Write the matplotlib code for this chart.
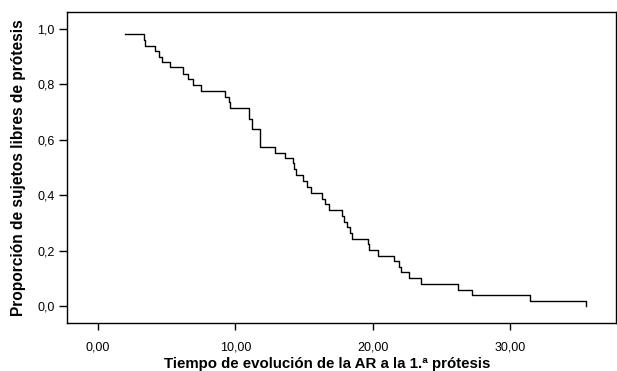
import matplotlib
matplotlib.use('Agg')
import matplotlib.pyplot as plt

# Kaplan-Meier style step curve
tiempo = [1.94, 3.32, 3.39, 4.19, 4.48, 4.65, 5.21, 6.18, 6.58, 6.94,
          7.51, 9.23, 9.56, 9.64, 11.00, 11.22, 11.80, 12.89, 13.63, 14.19,
          14.26, 14.44, 14.90, 15.24, 15.51, 16.28, 16.53, 16.84, 17.75, 17.93,
          18.15, 18.33, 18.46, 19.62, 19.74, 20.38, 21.56, 21.93, 22.07, 22.62,
          23.50, 26.19, 27.25, 31.42, 35.49]
proporcion = [0.981, 0.960, 0.940, 0.921, 0.900, 0.879, 0.861, 0.839, 0.818, 0.799,
              0.776, 0.756, 0.737, 0.716, 0.676, 0.640, 0.574, 0.551, 0.533, 0.516,
              0.494, 0.472, 0.451, 0.430, 0.409, 0.387, 0.367, 0.346, 0.326, 0.305,
              0.285, 0.264, 0.243, 0.224, 0.202, 0.182, 0.162, 0.142, 0.122, 0.100,
              0.080, 0.059, 0.039, 0.019, 0.0]

xticks = [0, 10, 20, 30]
xticklabels = ['0,00', '10,00', '20,00', '30,00']
yticks = [0.0, 0.2, 0.4, 0.6, 0.8, 1.0]
yticklabels = ['0,0', '0,2', '0,4', '0,6', '0,8', '1,0']

plt.rcParams['font.family'] = ['Liberation Sans', 'DejaVu Sans']

fig = plt.figure(figsize=(6.17, 3.71), dpi=100)
ax = fig.add_axes([67 / 617, 1 - 323 / 371, 549 / 617, 311 / 371])

ax.plot(tiempo, proporcion, drawstyle='steps-post', color='black', lw=1.0)

ax.set_xlim(-2.25, 37.7)
ax.set_ylim(-0.061, 1.061)
ax.set_xticks(xticks)
ax.set_xticklabels(xticklabels)
ax.set_yticks(yticks)
ax.set_yticklabels(yticklabels)
ax.tick_params(axis='x', direction='out', length=5, width=1, labelsize=9, pad=8)
ax.tick_params(axis='y', direction='out', length=6, width=1, labelsize=9, pad=3)
for sp in ax.spines.values():
    sp.set_linewidth(1.0)

ax.set_xlabel('Tiempo de evolución de la AR a la 1.ª prótesis',
              fontsize=10.8, fontweight='bold')
ax.xaxis.set_label_coords(0.474, -0.108)
ax.set_ylabel('Proporción de sujetos libres de prótesis',
              fontsize=11.2, fontweight='bold')
ax.yaxis.set_label_coords(-0.089, 0.5)
ax.yaxis.label.set_va('center')

fig.savefig('out.png', dpi=100)
